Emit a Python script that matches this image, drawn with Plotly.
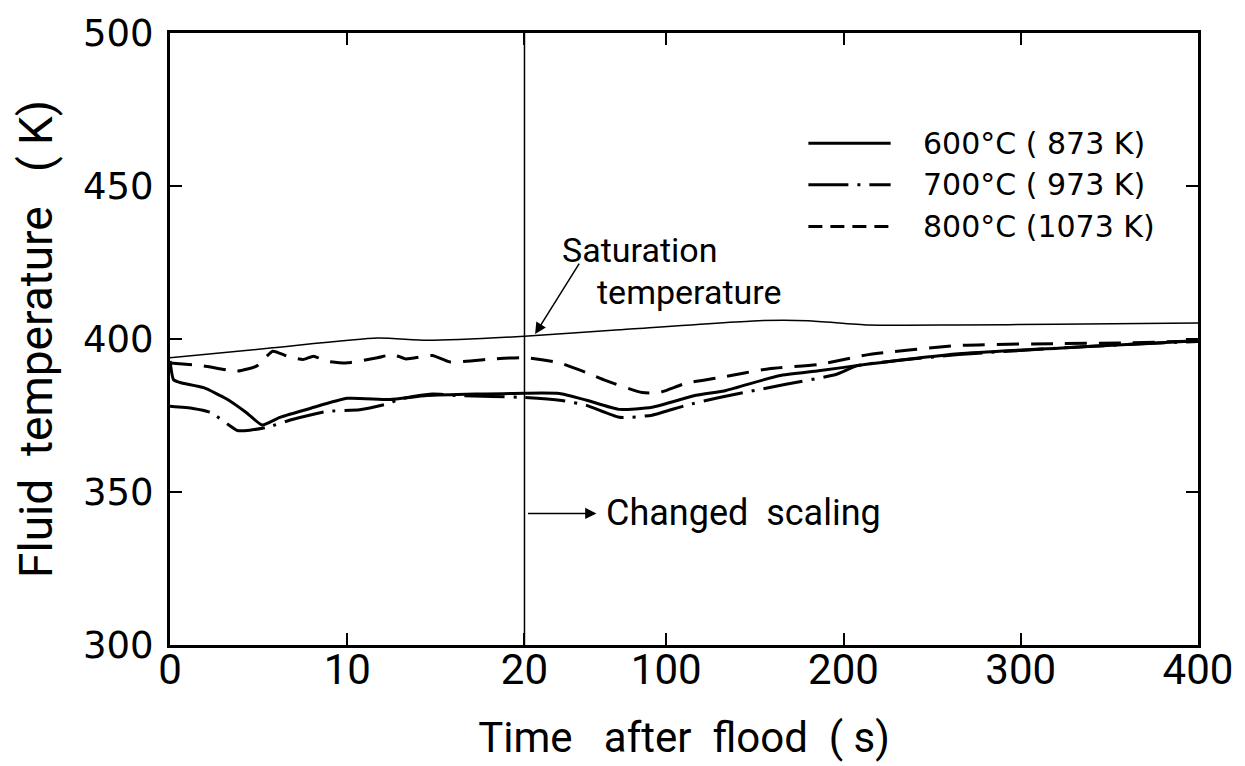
import plotly.graph_objects as go

# ---- data (time in s, temperature in K) ----
BREAK_T = 20.0      # scale changes at 20 s
SCALE_FACTOR = 10.0  # beyond the break, 10 s per unit

x_tick_values = [0, 10, 20, 100, 200, 300, 400]
x_tick_labels = ["0", "10", "20", "100", "200", "300", "400"]
y_tick_values = [300, 350, 400, 450, 500]

sat_t = [0, 5.8, 11.7, 14.5, 20, 73.5, 152, 180, 214, 265, 320, 400]
sat_T = [393.9, 397.1, 400.3, 399.6, 400.9, 403.0, 406.0, 406.0, 404.6, 404.6, 404.8, 405.2]

t600 = [0, 0.2, 0.56, 1.9, 3.2, 4.3, 5.2, 6.2, 7.9, 10, 12.4, 14.5, 20, 39.7, 55, 73.5, 92,
        116.8, 133.7, 163.6, 186, 214, 265, 321, 360, 400]
T600 = [392.8, 386.7, 385.8, 384.1, 380.4, 376.0, 371.9, 374.4, 377.3, 380.6, 380.2, 381.5,
        382.3, 382.2, 380.0, 377.0, 377.7, 381.6, 383.2, 388.0, 389.6, 391.8, 395.2, 397.0,
        398.2, 399.4]

t700 = [0, 1.3, 2.3, 3.8, 4.5, 5.5, 6.9, 8.8, 10.7, 12.2, 13, 14.8, 16.3, 20, 41, 55, 73.5,
        92, 111, 130, 167.5, 195.7, 208, 265, 321, 360, 400]
T700 = [378.0, 377.3, 376.0, 370.1, 370.2, 371.2, 373.7, 376.3, 376.9, 378.7, 380.4, 382.0,
        381.5, 380.9, 379.9, 378.3, 374.4, 375.1, 378.3, 380.9, 385.2, 388.4, 391.3, 394.9,
        397.0, 398.2, 399.2]

t800 = [0, 1.9, 3.8, 4.9, 5.8, 6.6, 7.5, 8.1, 8.8, 10, 11.7, 12.6, 13.3, 14.8, 15.8, 18.2, 20,
        39.7, 55, 66, 86.4, 96, 111, 130, 158, 186, 214, 265, 321, 360, 400]
T800 = [392.2, 391.2, 389.5, 391.2, 396.0, 394.4, 393.3, 394.4, 392.8, 392.2, 393.9, 394.9,
        393.5, 394.6, 392.5, 393.5, 393.9, 392.2, 389.0, 386.4, 382.5, 382.5, 385.5, 387.4,
        390.3, 391.7, 394.9, 397.9, 398.5, 398.7, 399.4]

series_names = ["600°C ( 873 K)", "700°C ( 973 K)", "800°C (1073 K)"]


def u(t):
    """Map real time to the broken axis coordinate."""
    return t if t <= BREAK_T else BREAK_T + (t - BREAK_T) / SCALE_FACTOR


def U(ts):
    return [u(t) for t in ts]


FONT_W = "DejaVu Sans, Liberation Sans, sans-serif"
FONT_N = "Roboto, Liberation Sans, sans-serif"
BLACK = "black"

dash_dot = "40px,9px,3px,9px"
dashed = "22px,12px"

fig = go.Figure()
fig.add_trace(go.Scatter(x=U(sat_t), y=sat_T, mode="lines", name="Saturation temperature",
                         line=dict(color=BLACK, width=1.5, shape="spline", smoothing=0.6),
                         showlegend=False))
fig.add_trace(go.Scatter(x=U(t600), y=T600, mode="lines", name=series_names[0],
                         line=dict(color=BLACK, width=3, shape="spline", smoothing=0.5),
                         showlegend=False))
fig.add_trace(go.Scatter(x=U(t700), y=T700, mode="lines", name=series_names[1],
                         line=dict(color=BLACK, width=3, dash=dash_dot, shape="spline", smoothing=0.5),
                         showlegend=False))
fig.add_trace(go.Scatter(x=U(t800), y=T800, mode="lines", name=series_names[2],
                         line=dict(color=BLACK, width=3, dash=dashed, shape="spline", smoothing=0.5),
                         showlegend=False))

# vertical line marking changed scaling
fig.add_shape(type="line", xref="x", yref="paper", x0=u(BREAK_T), x1=u(BREAK_T), y0=0, y1=1,
              line=dict(color=BLACK, width=1.5))

# legend drawn as shapes + annotations (long samples like the original)
legend_rows = [0.82, 0.752, 0.684]
legend_dash = ["solid", dash_dot, "14px,8px"]
for name, yy, dsh in zip(series_names, legend_rows, legend_dash):
    fig.add_shape(type="line", xref="paper", yref="paper", x0=0.621, x1=0.701, y0=yy, y1=yy,
                  line=dict(color=BLACK, width=3, dash=dsh))
    fig.add_annotation(xref="paper", yref="paper", x=0.731, y=yy, text=name, showarrow=False,
                       xanchor="left", yanchor="middle", font=dict(family=FONT_W, size=30, color=BLACK))

# Saturation temperature label + arrow
fig.add_annotation(x=26.5, y=429.1, text="Saturation", showarrow=False,
                   font=dict(family=FONT_N, size=34, color=BLACK))
fig.add_annotation(x=29.3, y=415.5, text="temperature", showarrow=False,
                   font=dict(family=FONT_N, size=34, color=BLACK))
fig.add_annotation(x=u(26), y=401.6, text="", showarrow=True, ax=45, ay=-72,
                   arrowhead=2, arrowsize=1.5, arrowwidth=1.5, arrowcolor=BLACK)

# Changed scaling arrow
fig.add_annotation(x=24.06, y=343, text="", showarrow=True, ax=-70, ay=0,
                   arrowhead=2, arrowsize=1.5, arrowwidth=1.5, arrowcolor=BLACK)
fig.add_annotation(x=24.5, y=343, text="Changed&nbsp;&nbsp;scaling", showarrow=False,
                   xanchor="left", font=dict(family=FONT_N, size=36, color=BLACK))

fig.update_xaxes(range=[0, u(400)], tickvals=U(x_tick_values), ticktext=x_tick_labels,
                 ticks="inside", ticklen=12, tickwidth=1.5, tickcolor=BLACK,
                 showline=True, linecolor=BLACK, linewidth=3, mirror="ticks",
                 showgrid=False, zeroline=False, ticklabelstandoff=-14,
                 tickfont=dict(family=FONT_N, size=42, color=BLACK),
                 title=dict(text="Time&nbsp;&nbsp;&nbsp;after&nbsp;&nbsp;flood&nbsp;&nbsp;( s)",
                            font=dict(family=FONT_N, size=42, color=BLACK), standoff=30))
fig.update_yaxes(range=[300, 500], tickvals=y_tick_values,
                 ticks="inside", ticklen=12, tickwidth=1.5, tickcolor=BLACK,
                 showline=True, linecolor=BLACK, linewidth=3, mirror="ticks",
                 showgrid=False, zeroline=False, ticklabelstandoff=6,
                 tickfont=dict(family=FONT_W, size=37, color=BLACK),
                 title=dict(text="Fluid&nbsp;&nbsp;temperature&nbsp;&nbsp;&nbsp;( K)",
                            font=dict(family=FONT_N, size=46, color=BLACK), standoff=16))

fig.update_layout(width=1245, height=766, margin=dict(l=170, r=45, t=27, b=121),
                  paper_bgcolor="white", plot_bgcolor="white", showlegend=False)

fig.write_html("out.html")
